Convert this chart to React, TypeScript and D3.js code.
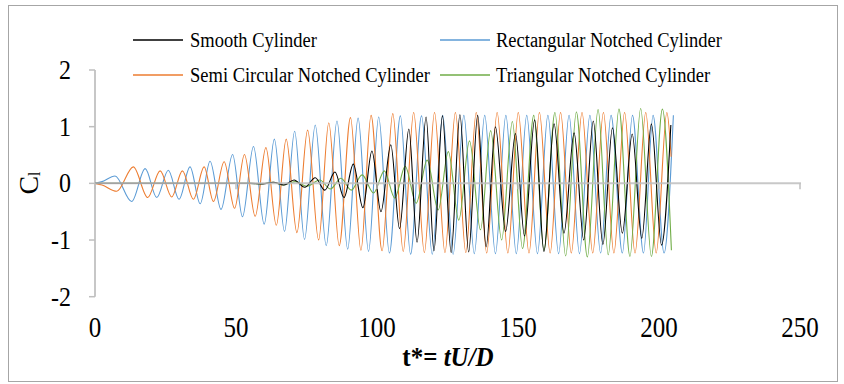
import React from "react";
import * as d3 from "d3";

// ---- Data (extrema of each signal) ----
const smoothT = [0, 55, 59.5, 63.3, 67, 70.6, 74.4, 78.1, 81.5, 85.1, 88.3, 91.6, 95, 98.2, 101.4, 104.9, 108, 111.3, 114.2, 117.4, 120.2, 123.2, 126.3, 129.4, 132.5, 135.7, 138.7, 142, 145.6, 149.1, 152.3, 155.9, 159.2, 162.8, 166.3, 169.9, 173.3, 176.7, 180.1, 183.5, 187, 190.5, 193.9, 197.3, 200.9, 204.2];
const smoothCl = [0, 0, -0.01, 0.02, -0.03, 0.06, -0.07, 0.1, -0.12, 0.2, -0.25, 0.34, -0.43, 0.57, -0.5, 0.68, -0.8, 0.96, -1.04, 1.17, -1.19, 1.19, -1.22, 1.21, -1.21, 1.2, -1.12, 1.0, -0.85, 0.88, -0.93, 1.12, -1.2, 1.05, -0.88, 0.89, -1.0, 1.1, -1.08, 0.98, -0.88, 0.87, -0.97, 1.05, -1.09, 1.03];

const rectT = [0, 2.5, 7.1, 13, 17.8, 21.9, 26, 29.8, 33.7, 37.3, 40.8, 44.7, 48.8, 52.3, 56.2, 60, 63.6, 67.2, 70.8, 74.3, 78.1, 82, 85.8, 89.6, 93.3, 97, 100.6, 104.4, 108.3, 111.9, 115.8, 119.6, 123.3, 127, 130.8, 134.5, 138.2, 142, 145.7, 149.4, 153.1, 156.9, 160.6, 164.4, 168.1, 171.8, 175.5, 179.3, 183, 187, 190.6, 194.5, 197.9, 201.8, 205.1];
const rectCl = [0, 0.03, 0.13, -0.32, 0.26, -0.25, 0.23, -0.28, 0.29, -0.36, 0.39, -0.46, 0.51, -0.59, 0.65, -0.72, 0.78, -0.85, 0.92, -0.99, 1.03, -1.1, 1.1, -1.16, 1.15, -1.2, 1.17, -1.23, 1.19, -1.25, 1.19, -1.25, 1.2, -1.25, 1.2, -1.24, 1.2, -1.24, 1.2, -1.24, 1.2, -1.24, 1.2, -1.24, 1.2, -1.24, 1.2, -1.23, 1.2, -1.23, 1.2, -1.23, 1.2, -1.23, 1.2];

const semiT = [0, 2.5, 7.7, 13.6, 18.7, 23.1, 27.2, 31, 34.9, 38.7, 42, 45.8, 49.5, 53, 56.8, 60.6, 64.3, 67.8, 71.6, 75.4, 79.3, 82.9, 86.6, 90.6, 94.3, 97.9, 101.8, 105.6, 109.3, 113, 116.8, 120.4, 124.1, 127.8, 131.5, 135.2, 138.9, 142.6, 146.4, 150.1, 153.9, 157.6, 161.4, 165.1, 168.9, 172.7, 176.5, 180.3, 184, 187.8, 191.5, 195.3, 199, 202.8, 204.3];
const semiCl = [0, -0.03, -0.14, 0.29, -0.25, 0.22, -0.24, 0.22, -0.28, 0.29, -0.32, 0.38, -0.44, 0.51, -0.58, 0.63, -0.74, 0.78, -0.87, 0.94, -1.0, 1.07, -1.1, 1.16, -1.18, 1.2, -1.19, 1.23, -1.2, 1.25, -1.22, 1.25, -1.22, 1.25, -1.22, 1.25, -1.23, 1.25, -1.23, 1.25, -1.23, 1.25, -1.23, 1.25, -1.23, 1.25, -1.23, 1.25, -1.23, 1.25, -1.23, 1.25, -1.23, 1.25, 0.47];

const triT = [0, 55, 59, 63, 66.8, 71, 75.2, 79.7, 83.5, 87.2, 90.9, 94.7, 98.8, 102.6, 106.3, 110, 113.9, 117.8, 121.7, 125.3, 129, 132.8, 136.7, 140.3, 144.2, 148, 151.6, 155.6, 159.2, 163.1, 166.9, 170.7, 174.6, 178.4, 182, 185.8, 189.7, 193.5, 197.3, 201.2, 204.4];
const triCl = [0, 0, -0.01, 0.02, -0.03, 0.03, -0.05, 0.06, -0.1, 0.09, -0.12, 0.15, -0.17, 0.22, -0.26, 0.3, -0.35, 0.41, -0.47, 0.56, -0.65, 0.75, -0.82, 0.93, -1.0, 1.09, -1.15, 1.2, -1.18, 1.25, -1.28, 1.26, -1.3, 1.3, -1.26, 1.31, -1.29, 1.32, -1.29, 1.31, -1.18];

const seriesNames = ["Smooth Cylinder", "Rectangular Notched Cylinder", "Semi Circular Notched Cylinder", "Triangular Notched Cylinder"];
const seriesColors = ["#000000", "#5b9bd5", "#ed7d31", "#70ad47"];
const xTicks = [0, 50, 100, 150, 200, 250];
const yTicks = [-2, -1, 0, 1, 2];

const W = 844;
const H = 384;
const FONT = "'Liberation Serif', 'Times New Roman', serif";

export default function App() {
  const x = d3.scaleLinear().domain([0, 250]).range([95, 800]);
  const y = d3.scaleLinear().domain([-2, 2]).range([296.7, 70]);

  const series = [
    { t: smoothT, v: smoothCl },
    { t: rectT, v: rectCl },
    { t: semiT, v: semiCl },
    { t: triT, v: triCl },
  ];

  const line = d3
    .line<[number, number]>()
    .x((d) => x(d[0]))
    .y((d) => y(d[1]))
    .curve(d3.curveMonotoneX);

  const paths = series.map((s) => line(s.t.map((t, i) => [t, s.v[i]] as [number, number])) || "");
  const drawOrder = [1, 2, 3, 0];

  const legendRows = [
    { y: 40, items: [0, 1] },
    { y: 75, items: [2, 3] },
  ];
  const colX = [
    { l0: 133, l1: 183, tx: 190 },
    { l0: 440, l1: 490, tx: 496 },
  ];

  const axisColor = "#bfbfbf";
  const y0 = y(0);

  return (
    <svg
      width={W}
      height={H}
      style={{ position: "absolute", left: 0, top: 0, background: "#fff" }}
      fontFamily={FONT}
    >
      <rect x={0} y={0} width={W} height={H} fill="#fff" />
      <rect x={8.5} y={5.5} width={829} height={376} fill="none" stroke="#a6a6a6" strokeWidth={1} />

      {/* y axis */}
      <line x1={x(0)} x2={x(0)} y1={y(2)} y2={y(-2)} stroke={axisColor} strokeWidth={1.75} />
      {yTicks.map((v) => (
        <g key={"yt" + v}>
          <line x1={x(0) - 6} x2={x(0)} y1={y(v)} y2={y(v)} stroke={axisColor} strokeWidth={1.5} />
          <text
            transform={`translate(71, ${y(v)}) scale(1, 1.1)`}
            textAnchor="end"
            dominantBaseline="central"
            fontSize={24}
            fill="#000"
          >
            {v}
          </text>
        </g>
      ))}

      {/* series */}
      {drawOrder.map((i) => (
        <path key={"s" + i} d={paths[i]} fill="none" stroke={seriesColors[i]} strokeWidth={1.1} />
      ))}

      {/* x axis at zero */}
      <line x1={x(0)} x2={x(250) + 1} y1={y0} y2={y0} stroke={axisColor} strokeWidth={2} opacity={0.85} />
      {xTicks.map((v) => (
        <g key={"xt" + v}>
          <line x1={x(v)} x2={x(v)} y1={y0} y2={y0 + 6} stroke={axisColor} strokeWidth={1.5} />
          <text
            transform={`translate(${x(v)}, 327) scale(1, 1.15)`}
            textAnchor="middle"
            dominantBaseline="central"
            fontSize={25}
            fill="#000"
          >
            {v}
          </text>
        </g>
      ))}

      {/* axis titles */}
      <text
        transform="translate(448, 357) scale(1, 1.1)"
        textAnchor="middle"
        dominantBaseline="central"
        fontSize={25}
        fontWeight="bold"
        fill="#000"
      >
        <tspan>t*= </tspan>
        <tspan fontStyle="italic">tU</tspan>
        <tspan fontStyle="italic">/D</tspan>
      </text>
      <text transform="translate(38, 183) rotate(-90)" textAnchor="middle" fontSize={28} fill="#000">
        <tspan>C</tspan>
        <tspan fontSize={16} dy={2}>l</tspan>
      </text>

      {/* legend */}
      {legendRows.map((row) =>
        row.items.map((si, c) => (
          <g key={"lg" + si}>
            <line x1={colX[c].l0} x2={colX[c].l1} y1={row.y} y2={row.y} stroke={seriesColors[si]} strokeWidth={1.3} />
            <text
              transform={`translate(${colX[c].tx}, ${row.y}) scale(1, 1.08)`}
              dominantBaseline="central"
              fontSize={18.5}
              fill="#000"
            >
              {seriesNames[si]}
            </text>
          </g>
        ))
      )}
    </svg>
  );
}
